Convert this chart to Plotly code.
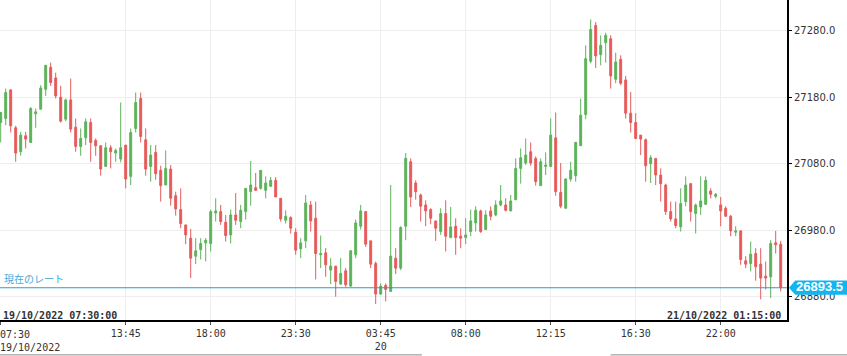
import plotly.graph_objects as go

OPEN = [27142,27148,27191,27134,27098,27122,27112,27155,27162,27192,
        27225,27209,27180,27147,27176,27135,27106,27119,27142,27115,
        27107,27076,27104,27096,27087,27108,27061,27133,27178,27116,
        27076,27097,27070,27048,27072,27032,27011,26988,26968,26941,
        26951,26961,26960,27006,27008,26992,26973,27003,26993,27008,
        27038,27044,27043,27040,27046,27055,27028,26995,26999,26977,
        26952,26964,27018,26998,26943,26946,26920,26926,26899,26919,
        26896,26943,26986,27008,26964,26930,26884,26897,26888,26938,
        26923,26986,27083,27051,27033,27018,27011,26994,26978,27005,
        26969,26986,26971,26969,26978,26991,27009,26981,27009,27003,
        27018,27018,27009,27026,27073,27081,27098,27088,27047,27076,
        27076,27119,27037,27013,27057,27062,27107,27154,27234,27288,
        27244,27262,27268,27207,27237,27206,27156,27142,27123,27116,
        27080,27088,27063,27048,27008,26997,26985,27023,27050,27005,
        27015,27019,27039,27031,27018,27013,27001,26977,26979,26934,
        26930,26945,26929,26911,26910,26961,26959]
HIGH = [27158,27193,27192,27137,27128,27128,27165,27163,27198,27228,
        27232,27217,27197,27178,27208,27148,27133,27148,27148,27118,
        27108,27112,27108,27103,27172,27108,27133,27187,27187,27133,
        27108,27108,27077,27100,27078,27038,27043,26988,26982,26968,
        26968,26968,27011,27028,27018,27003,27011,27036,27018,27043,
        27084,27066,27070,27061,27060,27060,27028,27010,27001,26983,
        26968,27033,27024,27023,26972,26953,26938,26926,26938,26923,
        26950,26996,27018,27009,26964,26933,26900,26900,27048,26953,
        26986,27096,27088,27055,27035,27025,27013,26994,27013,27025,
        27015,26998,26983,26998,27011,27016,27011,27010,27016,27025,
        27048,27028,27033,27088,27103,27118,27112,27091,27088,27097,
        27148,27157,27081,27058,27083,27113,27178,27258,27297,27293,
        27273,27277,27273,27247,27243,27212,27188,27156,27123,27118,
        27093,27088,27073,27050,27023,27023,27043,27061,27051,27020,
        27061,27061,27043,27036,27030,27016,27003,26986,26980,26941,
        26963,26953,26953,26933,26965,26979,26964]
LOW = [27112,27138,27127,27083,27092,27103,27112,27134,27162,27182,
       27197,27178,27142,27144,27127,27098,27092,27108,27083,27092,
       27062,27076,27073,27083,27082,27043,27048,27127,27112,27062,
       27053,27056,27023,27048,27017,27002,26983,26959,26908,26929,
       26936,26933,26948,26993,26988,26963,26960,26988,26983,26996,
       27017,27039,27041,27028,27045,27030,26993,26990,26975,26943,
       26938,26953,26978,26906,26923,26910,26899,26880,26898,26895,
       26895,26938,26981,26955,26923,26869,26883,26873,26888,26914,
       26920,26965,27015,27026,26993,26986,26989,26964,26973,26948,
       26968,26943,26953,26959,26971,26978,26976,26981,26995,27001,
       27016,27008,27009,27025,27050,27078,27077,27047,27047,27063,
       27076,27032,27013,27013,27053,27053,27107,27147,27231,27224,
       27228,27232,27193,27201,27198,27148,27127,27117,27093,27053,
       27051,27048,27023,27003,26993,26983,26978,27016,26993,26975,
       27003,27018,27028,27028,26986,27000,26971,26971,26928,26923,
       26918,26904,26876,26891,26878,26945,26888]
CLOSE = [27157,27187,27137,27096,27123,27117,27163,27158,27194,27228,
         27202,27182,27144,27176,27132,27106,27118,27143,27112,27107,
         27072,27104,27098,27100,27104,27057,27127,27172,27121,27072,
         27093,27065,27047,27073,27028,27012,26990,26973,26938,26949,
         26960,26965,27008,27009,26993,26972,27003,26995,27010,27043,
         27048,27040,27070,27051,27055,27030,26997,27001,26983,26950,
         26961,27021,26994,26945,26945,26928,26926,26903,26915,26898,
         26949,26991,27009,26959,26929,26884,26896,26891,26941,26923,
         26984,27088,27030,27038,27016,27009,26998,26983,27005,26971,
         26985,26969,26968,26973,26994,27010,26978,27003,27001,27018,
         27024,27010,27024,27073,27089,27093,27081,27053,27083,27078,
         27123,27038,27016,27057,27070,27112,27153,27238,27282,27242,
         27258,27273,27212,27233,27201,27156,27142,27118,27117,27077,
         27089,27063,27050,27008,26997,26987,27020,27048,27008,27018,
         27024,27055,27034,27034,27009,27001,26979,26979,26936,26929,
         26944,26925,26908,26908,26960,26958,26893.5]

CURRENT_RATE = 26893.5
CURRENT_LABEL = "現在のレート"
Y_TICKS = [26880, 26980, 27080, 27180, 27280]
X_TICK_POS = [0, 25, 42, 59, 76, 93, 110, 127, 144]
X_TICK_TEXT = ["", "13:45", "18:00", "23:30", "03:45<br>20", "08:00", "12:15", "16:30", "22:00"]
FIRST_TICK_TEXT = "07:30<br>19/10/2022"
START_STAMP = "19/10/2022 07:30:00"
END_STAMP = "21/10/2022 01:15:00"

GREEN = "#5cb25a"
RED = "#e65a5a"
BLUE_LINE = "#2b9bd0"
BLUE_BOX = "#13b5f0"

Y_MIN, Y_MAX = 26845, 27326.2

idx = list(range(len(OPEN)))

fig = go.Figure()
fig.add_trace(go.Candlestick(
    x=idx, open=OPEN, high=HIGH, low=LOW, close=CLOSE,
    increasing=dict(line=dict(color=GREEN, width=1), fillcolor=GREEN),
    decreasing=dict(line=dict(color=RED, width=1), fillcolor=RED),
    whiskerwidth=0, hoverinfo="skip", showlegend=False,
))

# current rate line
fig.add_shape(type="line", xref="paper", x0=0, x1=1, yref="y",
              y0=CURRENT_RATE, y1=CURRENT_RATE,
              line=dict(color=BLUE_LINE, width=1))

# bottom navigator lines
fig.add_shape(type="line", xref="paper", yref="paper", x0=0, x1=0.536,
              y0=-0.109, y1=-0.109, line=dict(color="#888888", width=1))
fig.add_shape(type="line", xref="paper", yref="paper", x0=0.776, x1=1.08,
              y0=-0.109, y1=-0.109, line=dict(color="#888888", width=1))

# price tag (arrow + box)
ym = (CURRENT_RATE - Y_MIN) / (Y_MAX - Y_MIN)
fig.add_shape(type="path", xref="paper", yref="paper",
              path="M 1.0025,{m} L 1.0105,{t} L 1.08,{t} L 1.08,{b} L 1.0105,{b} Z".format(
                  m=ym, t=ym + 0.0225, b=ym - 0.0215),
              fillcolor=BLUE_BOX, line=dict(width=0))

fig.add_annotation(xref="paper", x=1.0415, xanchor="center", yref="y", y=CURRENT_RATE,
                   yanchor="middle", yshift=1, text="<b>%s</b>" % CURRENT_RATE, showarrow=False,
                   font=dict(family="Liberation Sans", size=13, color="white"))

fig.add_annotation(xref="paper", x=0, xanchor="left", xshift=2, yref="y", y=CURRENT_RATE,
                   yanchor="bottom", yshift=0, text=CURRENT_LABEL, showarrow=False,
                   font=dict(family="Noto Sans CJK JP", size=10, color="#3fa9d9"))

fig.add_annotation(xref="paper", x=0, xanchor="left", xshift=1, yref="paper", y=0,
                   yanchor="bottom", yshift=-3, text="<b>%s</b>" % START_STAMP, showarrow=False,
                   font=dict(family="DejaVu Sans Mono", size=10, color="#333333"))
fig.add_annotation(xref="paper", x=1, xanchor="right", xshift=-4, yref="paper", y=0,
                   yanchor="bottom", yshift=-3, text="<b>%s</b>" % END_STAMP, showarrow=False,
                   font=dict(family="DejaVu Sans Mono", size=10, color="#333333"))

fig.add_annotation(xref="paper", x=0, xanchor="left", xshift=-2, yref="paper", y=0,
                   yanchor="top", yshift=-7, text=FIRST_TICK_TEXT, showarrow=False, align="left",
                   font=dict(family="DejaVu Sans Mono", size=10, color="#333333"))

fig.update_layout(
    width=847, height=356,
    margin=dict(l=0, r=60, t=0, b=36),
    paper_bgcolor="white", plot_bgcolor="white",
    boxgap=0.45,
    showlegend=False,
    xaxis=dict(
        range=[-0.14, 157.26], rangeslider=dict(visible=False),
        tickmode="array", tickvals=X_TICK_POS, ticktext=X_TICK_TEXT,
        showgrid=True, gridcolor="#eeeeee", gridwidth=1,
        showline=True, linecolor="black", linewidth=2,
        ticks="outside", ticklen=3, tickcolor="#555555",
        tickfont=dict(family="DejaVu Sans Mono", size=10, color="#333333"),
        zeroline=False, fixedrange=True,
    ),
    yaxis=dict(
        side="right", range=[Y_MIN, Y_MAX],
        tickmode="array", tickvals=Y_TICKS, tickformat=".1f",
        showgrid=True, gridcolor="#eeeeee", gridwidth=1,
        showline=True, linecolor="black", linewidth=2,
        ticks="outside", ticklen=3, tickcolor="black",
        tickfont=dict(family="DejaVu Sans", size=10, color="#333333"),
        zeroline=False, fixedrange=True,
    ),
)

fig.write_html("out.html", config={"displayModeBar": False},
               post_script="document.body.style.margin='0';document.body.style.overflow='hidden';")
